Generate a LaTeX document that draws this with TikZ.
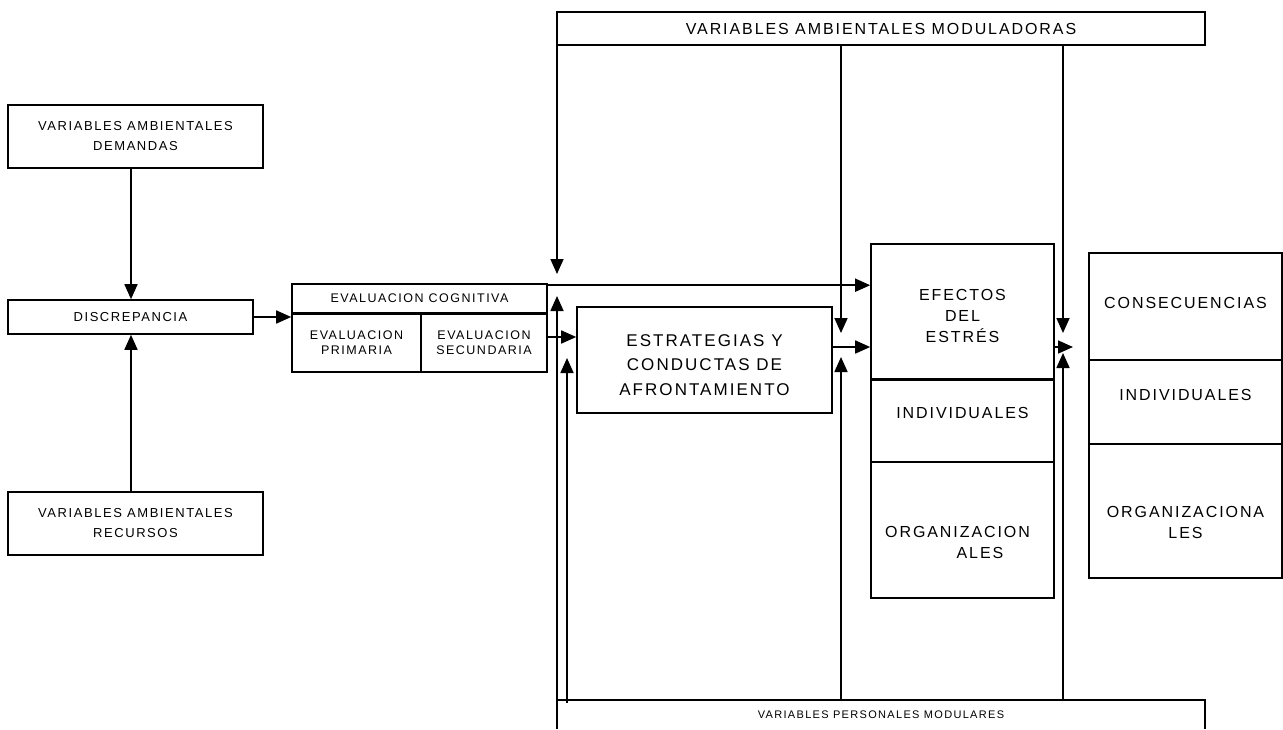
\documentclass[tikz,border=0pt]{standalone}
\usepackage{fontspec}
\setmainfont{Liberation Sans}
\newfontfamily\ls[LetterSpace=12]{Liberation Sans}
\usetikzlibrary{arrows.meta,calc}
\begin{document}
\begin{tikzpicture}[x=1pt,y=-1pt,
  box/.style={draw, line width=1.6pt, inner sep=0pt, align=center},
  arr/.style={line width=1.7pt, -{Triangle[length=15pt,width=13pt]}},
  txt/.style={inner sep=0pt, align=center},
  fA/.style={font=\ls\fontsize{13}{20}\selectfont},
  fB/.style={font=\ls\fontsize{16}{21}\selectfont},
  fC/.style={font=\ls\fontsize{12.5}{15}\selectfont},
  fD/.style={font=\ls\fontsize{17}{24.5}\selectfont},
  fE/.style={font=\ls\fontsize{11}{15}\selectfont}]
\useasboundingbox[fill=white] (0,0) rectangle (1283,729);

% top and bottom boxes
\node[box, fB, minimum width=648, minimum height=33] (mod) at (881,28.5) {VARIABLES AMBIENTALES MODULADORAS};
\node[txt, fE, minimum width=648, minimum height=29, outer sep=0pt] (pers) at (881,714.5) {VARIABLES PERSONALES MODULARES};
\draw[line width=1.6pt] (pers.south west) -- (pers.north west) -- (pers.north east) -- (pers.south east);

% left column
\node[box, fA, minimum width=255, minimum height=63] (dem) at (135.5,136.5) {VARIABLES AMBIENTALES\\DEMANDAS};
\node[box, fA, minimum width=245, minimum height=34] (disc) at (130.5,317) {DISCREPANCIA};
\node[box, fA, minimum width=255, minimum height=63] (rec) at (135.5,523.5) {VARIABLES AMBIENTALES\\RECURSOS};

% evaluation
\node[box, fC, minimum width=255, minimum height=29] (evc) at (419.5,298.5) {EVALUACION COGNITIVA};
\node[box, fC, minimum width=129, minimum height=59] (evp) at (356.5,342.5) {EVALUACION\\PRIMARIA};
\node[box, fC, minimum width=126, minimum height=59] (evs) at (484,342.5) {EVALUACION\\SECUNDARIA};
\draw[line width=3pt] (evc.south west) -- (evc.south east);

% strategies
\node[box, minimum width=255, minimum height=106] (estr) at (704.5,360) {};
\node[txt, fD] (estrt) at (704.5,365) {ESTRATEGIAS Y\\CONDUCTAS DE\\AFRONTAMIENTO};

% effects
\node[box, minimum width=183, minimum height=135] (efe) at (962.5,311.5) {};
\node[txt, fB] (efet) at (962.5,316) {EFECTOS\\DEL\\ESTRÉS};
\node[box, minimum width=183, minimum height=83] (efi) at (962.5,420.5) {};
\node[box, minimum width=183, minimum height=136] (efo) at (962.5,530) {};
\draw[line width=3.2pt] (efe.south west) -- (efe.south east);
\node[txt, fB] (efit) at (962.5,413) {INDIVIDUALES};
\node[txt, fB] (efo1) at (957.5,532) {ORGANIZACION};
\node[txt, fB] (efo2) at (980,553) {ALES};

% consequences
\node[box, minimum width=193, minimum height=107] (cons) at (1185.5,306.5) {};
\node[box, minimum width=193, minimum height=84] (coi) at (1185.5,402) {};
\node[box, minimum width=193, minimum height=134] (coo) at (1185.5,511) {};
\node[txt, fB] (const) at (1185.5,303) {CONSECUENCIAS};
\node[txt, fB] (coit) at (1185.5,395) {INDIVIDUALES};
\node[txt, fB] (coot) at (1185.5,522.5) {ORGANIZACIONA\\LES};

% connectors
\coordinate (cx) at (131,0);
\draw[arr] (dem.south -| cx) -- (disc.north -| cx);
\draw[arr] (rec.north -| cx) -- (disc.south -| cx);
\draw[arr] (disc.east) -- (disc.east -| evp.west);

\coordinate (t1) at (557,274);
\coordinate (u1) at (557,296);
\draw[arr] (mod.south -| t1) -- (t1);
\draw[arr] (pers.north -| u1) -- (u1);
\draw[arr] ([yshift=-2pt]evc.north east) -- ([yshift=-2pt]evc.north east -| efe.west);

\coordinate (e1) at (0,337);
\draw[arr] (evs.east |- e1) -- (estr.west |- e1);
\coordinate (u2) at (567,358);
\draw[arr] ([yshift=-3pt]pers.north -| u2) -- (u2);

\coordinate (m1) at (841,333);
\coordinate (m2) at (841,357);
\draw[arr] (mod.south -| m1) -- (m1);
\draw[arr] (pers.north -| m2) -- (m2);
\coordinate (e2) at (0,347);
\draw[arr] (estr.east |- e2) -- (efe.west |- e2);

\coordinate (r1) at (1063,333);
\coordinate (r2) at (1063,353);
\coordinate (r3) at (1073,347);
\draw[arr] (mod.south -| r1) -- (r1);
\draw[arr] (pers.north -| r2) -- (r2);
\draw[arr] (efe.east |- r3) -- (r3);
\end{tikzpicture}
\end{document}
